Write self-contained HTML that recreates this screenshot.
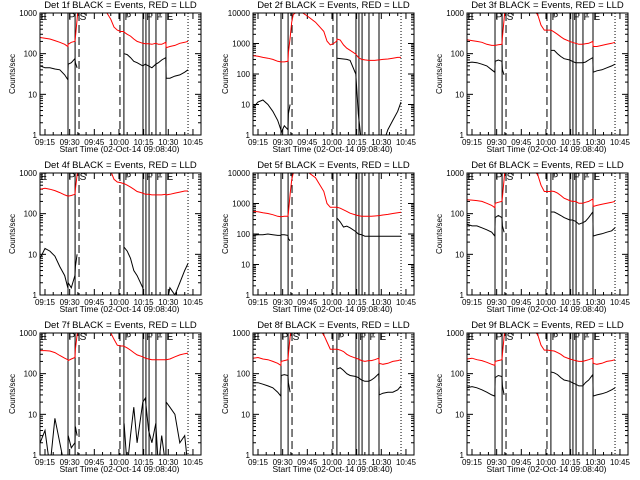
<!DOCTYPE html>
<html><head><meta charset="utf-8"><style>
html,body{margin:0;padding:0;background:#fff;}
svg{display:block;font-family:"Liberation Sans",sans-serif;}
</style></head><body>
<svg id="chart" width="640" height="480" viewBox="0 0 640 480"></svg>
<script>
const T = [12,15,18,21,24,27,28.9, 29.1,31,33.2, 33.5,34.5,35.5,36.5,40,45,50,55,57,59,61,62.9, 63.1,65,67,69,71,74.5,76,78,80,82.4,84,86,88.5, 88.7,91,94,97,100,102];
const N = null;
const red1 = [250,240,230,210,190,170,150, 170,190,200, 250,700,2000,3000,3000,3000,1500,700,450,380,350,350, 340,300,270,230,200,180,175,175,170,180,170,170,190, 140,150,160,180,190,200];
const red2 = [400,380,350,330,300,260,250, 250,250,260, 500,1500,5000,9000,12000,8000,5000,2500,1200,900,1000,1200, 1400,1300,900,700,600,450,350,300,290,280,280,280,290, 290,300,310,330,350,350];
const red3 = [220,210,200,190,170,160,160, 160,165,170, 250,700,2000,3000,3000,3000,1500,900,500,380,380,380, 380,340,300,260,230,200,190,180,170,170,175,180,200, 150,150,160,170,180,190];
const red4 = [400,420,400,370,330,290,270, 270,280,300, 400,900,2000,3000,3000,3000,2000,1100,700,600,580,550, 550,500,450,400,350,320,300,300,290,290,290,290,300, 290,300,320,340,360,360];
const red5 = [550,540,500,470,430,380,370, 370,380,380, 500,2000,6000,10000,12000,11000,7000,2500,1000,750,750,750, 750,700,620,550,480,420,400,380,380,380,380,390,400, 400,420,440,470,500,520];
const red6 = [220,215,210,200,180,160,140, 180,190,200, 250,700,2000,3000,3000,3000,1500,900,500,350,350,350, 360,350,320,280,240,210,200,200,180,180,190,200,230, 150,160,170,180,190,200];
const red7 = [370,370,360,330,280,240,220, 210,230,250, 400,900,2000,3000,3000,3000,1500,1000,700,500,480,480, 470,430,380,330,290,260,240,230,220,220,220,220,220, 220,230,260,290,310,320];
const red8 = [240,250,230,220,200,180,160, 200,210,220, 300,800,2000,3000,3000,3000,1500,900,600,400,400,400, 400,380,350,300,270,240,230,210,200,210,210,220,240, 180,170,180,200,210,220];
const red9 = [230,240,220,210,190,170,160, 200,210,220, 300,800,2000,3000,3000,3000,1500,900,500,380,380,370, 370,360,330,300,260,230,220,210,200,200,210,220,240, 180,170,180,200,210,220];
const blk1 = [50,45,45,42,40,30,23, 55,60,75, 60,45,N,N,N,N,N,N,N,N,N,N, 100,95,80,65,60,50,55,50,45,55,60,70,80, 25,25,28,30,35,40];
const blk2 = [8,12,14,10,6,3,1.5, 1.2,2,1.5, 5,10,N,N,N,N,N,N,N,N,N,N, 330,320,310,300,280,100,5,0.5,0.5,0.5,0.5,0.5,0.5, 0.5,0.5,1.5,3,6,12];
const blk3 = [60,62,60,55,50,40,35, 65,70,65, 40,30,N,N,N,N,N,N,N,N,N,N, 120,120,100,85,75,70,65,60,60,60,62,70,80, 35,38,40,45,50,55];
const blk4 = [8,14,12,9,5,3,1.5, 2,1.5,3, 5,10,N,N,N,N,N,N,N,N,N,N, 15,12,8,4,3,1.5,0.5,0.5,0.5,0.5,0.5,0.5,0.5, 0.5,1.5,1,2,4,6];
const blk5 = [90,95,95,100,95,90,90, 95,95,90, 70,60,N,N,N,N,N,N,N,N,N,N, 330,250,170,180,160,120,100,95,85,85,85,85,85, 85,85,85,85,85,85];
const blk6 = [55,50,50,45,40,35,28, 80,90,80, 50,35,N,N,N,N,N,N,N,N,N,N, 110,110,100,90,80,70,70,65,55,60,65,80,110, 28,30,32,35,38,45];
const blk7 = [2,4,0.5,8,2,0.5,0.5, 3,1.5,2, 5,3,N,N,N,N,N,N,N,N,N,N, 6,0.5,3,15,2,20,25,4,2,6,0.5,3,0.5, 20,15,10,2,3,0.5];
const blk8 = [60,60,55,50,45,35,28, 90,95,90, 60,35,N,N,N,N,N,N,N,N,N,N, 130,140,120,100,90,85,80,70,65,65,70,80,100, 30,33,35,35,40,50];
const blk9 = [45,48,45,40,35,30,28, 80,90,85, 50,30,N,N,N,N,N,N,N,N,N,N, 110,105,95,80,70,65,60,55,50,50,60,70,95, 28,30,32,35,40,45];
const detNames = ["1f","2f","3f","4f","5f","6f","7f","8f","9f"];
const yMaxDec = [3,4,3,3,4,3,3,3,3];
const solidTimes = [29.0,33.3,63.0,74.6,76.4,78.3,82.5,88.6];
const dashedTimes = [35.7,60.6];
const dottedTimes = [102];
const flagLabels = ["E","P","S","P","F","F","E"];
const flagTimes = [12.3,29.4,36.1,63.4,76.7,82.8,88.9];
const xTickTimes = [15,30,45,60,75,90,105];
const xTickLabels = ["09:15","09:30","09:45","10:00","10:15","10:30","10:45"];

const reds=[red1,red2,red3,red4,red5,red6,red7,red8,red9];
const blks=[blk1,blk2,blk3,blk4,blk5,blk6,blk7,blk8,blk9];
const svg=document.getElementById('chart');
const NS="http://www.w3.org/2000/svg";
function mk(tag,attrs,parent){const e=document.createElementNS(NS,tag);for(const k in attrs)e.setAttribute(k,attrs[k]);(parent||svg).appendChild(e);return e;}
const colLeft=[40,253,467], W=161, T0=11.96, K=1.644;
for(let p=0;p<9;p++){
  const col=p%3,row=Math.floor(p/3);
  const L=colLeft[col], top=13+row*160, bot=135+row*160, R=L+W;
  const dec=yMaxDec[p];
  const xs=t=>L+(t-T0)*K;
  const ys=v=>bot-(Math.log10(v)/dec)*(bot-top);
  const g=mk('g',{});
  
  
  const cid='clip'+p;
  const cp=mk('clipPath',{id:cid},g);mk('rect',{x:L,y:top,width:W,height:bot-top},cp);
  const ti=mk('text',{x:L+W/2,y:row*160+8,'font-size':'9.5','text-anchor':'middle'},g);
  ti.textContent='Det '+detNames[p]+' BLACK = Events, RED = LLD';
  
  
  const yl=mk('text',{x:0,y:0,'font-size':'8','text-anchor':'middle',transform:`translate(${L-25},${(top+bot)/2}) rotate(-90)`},g);
  yl.textContent='Counts/sec';
  
  
  const xl=mk('text',{x:L+W/2-1,y:bot+17,'font-size':'8.5','text-anchor':'middle'},g);
  xl.textContent='Start Time (02-Oct-14 09:08:40)';
  
  
  for(let d=0;d<=dec;d++){
    const y=ys(Math.pow(10,d));
    mk('line',{x1:L,x2:L+6,y1:y,y2:y,stroke:'#000'},g);
    mk('line',{x1:R-6,x2:R,y1:y,y2:y,stroke:'#000'},g);
    const tl=mk('text',{x:L-3,y:y+3,'font-size':'8','text-anchor':'end'},g);
    tl.textContent=String(Math.pow(10,d));
    
    
    if(d<dec){for(let m=2;m<10;m++){const ym=ys(m*Math.pow(10,d));
      mk('line',{x1:L,x2:L+3,y1:ym,y2:ym,stroke:'#000'},g);
      mk('line',{x1:R-3,x2:R,y1:ym,y2:ym,stroke:'#000'},g);}}
  }
  for(let m=15;m<=110;m+=5){const x=xs(m);if(x>R)break;const major=m%15===0;
    mk('line',{x1:x,x2:x,y1:bot,y2:bot-(major?6:3),stroke:'#000'},g);
    mk('line',{x1:x,x2:x,y1:top,y2:top+(major?6:3),stroke:'#000'},g);}
  xTickTimes.forEach((t,i)=>{const x=xs(t);if(x>R+5)return;
    const tl=mk('text',{x:x,y:bot+10,'font-size':'8','text-anchor':'middle'},g);
    tl.textContent=xTickLabels[i];
    
    });
  solidTimes.forEach(t=>{const l=mk('line',{x1:xs(t),x2:xs(t),y1:top,y2:bot,stroke:'#000','stroke-width':1},g);
    
    });
  dashedTimes.forEach(t=>{const l=mk('line',{x1:xs(t),x2:xs(t),y1:top,y2:bot,stroke:'#000','stroke-width':1,'stroke-dasharray':'8,4'},g);
    
    });
  dottedTimes.forEach(t=>{const l=mk('line',{x1:xs(t),x2:xs(t),y1:top,y2:bot,stroke:'#000','stroke-width':1,'stroke-dasharray':'1,2'},g);
    
    });
  if(dec===3){flagLabels.forEach((s,i)=>{const f=mk('text',{x:xs(flagTimes[i]),y:top+7,'font-size':'10'},g);
    f.textContent=s;
    
    });}
  function series(arr,color,name){
    let d='',pen=false;
    arr.forEach((v,i)=>{if(v===null){pen=false;return;}
      const y=ys(v);d+=(pen?'L':'M')+xs(T[i]).toFixed(1)+' '+y.toFixed(1);pen=true;});
    const pa=mk('path',{d:d,fill:'none',stroke:color,'stroke-width':1,'clip-path':`url(#${cid})`},g);
    
    
  }
  series(reds[p],'#ff0000','lld-series');
  series(blks[p],'#000000','events-series');
  const fr=mk('rect',{x:L,y:top,width:W,height:bot-top,fill:'none',stroke:'#000'},g);
  
  
}
</script>
</body></html>
